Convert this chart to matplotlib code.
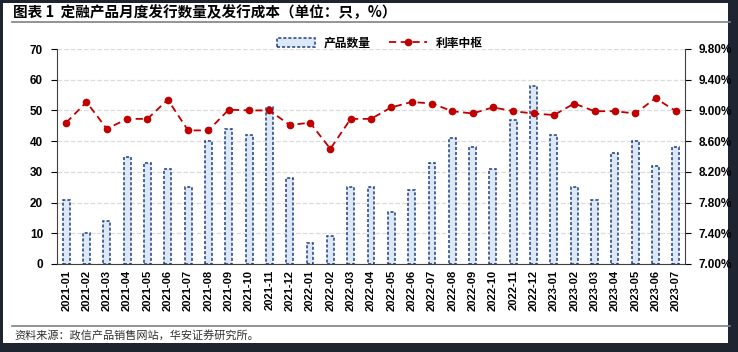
import matplotlib.pyplot as plt
from matplotlib.patches import Rectangle
from matplotlib.lines import Line2D

plt.rcParams['font.family'] = ['Liberation Sans', 'Noto Sans CJK SC', 'DejaVu Sans']

months = ["2021-01", "2021-02", "2021-03", "2021-04", "2021-05", "2021-06",
          "2021-07", "2021-08", "2021-09", "2021-10", "2021-11", "2021-12",
          "2022-01", "2022-02", "2022-03", "2022-04", "2022-05", "2022-06",
          "2022-07", "2022-08", "2022-09", "2022-10", "2022-11", "2022-12",
          "2023-01", "2023-02", "2023-03", "2023-04", "2023-05", "2023-06",
          "2023-07"]
counts = [21, 10, 14, 35, 33, 31, 25, 40, 44, 42, 51, 28,
          7, 9, 25, 25, 17, 24, 33, 41, 38, 31, 47, 58,
          42, 25, 21, 36, 40, 32, 38]
rates = [8.84, 9.11, 8.76, 8.89, 8.89, 9.14, 8.74, 8.74, 9.01, 9.00, 9.00, 8.81,
         8.84, 8.50, 8.89, 8.89, 9.04, 9.11, 9.09, 8.99, 8.96, 9.04, 8.99, 8.96,
         8.94, 9.09, 8.99, 8.99, 8.96, 9.16, 8.99]

W, H = 738, 352
fig = plt.figure(figsize=(W / 100, H / 100), dpi=100)
fig.patch.set_facecolor('#1e2530')
fig.patches.append(Rectangle((3 / W, 9 / H), 725 / W, 340 / H, transform=fig.transFigure,
                             facecolor='white', edgecolor='none', zorder=-10))

ax = fig.add_axes([57 / W, 1 - 264 / H, 628 / W, 215 / H])
ax.set_facecolor('none')
x = range(len(months))
ax.bar(x, counts, width=0.34, color='#dce8f5', edgecolor='#1f3f7f',
       linestyle=(0, (2, 1.3)), linewidth=1.1, label='产品数量', zorder=2)
ax.set_ylim(0, 70)
ax.set_yticks(range(0, 71, 10))
ax.set_xlim(-0.45, len(months) - 0.55)
ax.set_xticks(list(x))
ax.set_xticklabels(months, rotation=90, fontsize=8, fontweight='bold')
ax.tick_params(axis='x', length=0, pad=4)
ax.tick_params(axis='y', labelsize=8.5, length=4, width=0.8, pad=6)
for lab in ax.get_yticklabels():
    lab.set_fontweight('bold')
ax.grid(axis='y', color='#dcdcdc', linestyle='--', linewidth=0.9, zorder=0)
ax.spines['top'].set_visible(False)
ax.spines['right'].set_visible(False)
ax.spines['left'].set_color('#404040')
ax.spines['bottom'].set_color('#404040')

ax2 = ax.twinx()
ax2.plot(list(x), rates, color='#c00000', linestyle=(0, (4, 2.5)), linewidth=1.3,
         marker='o', markersize=4.5, label='利率中枢', zorder=3)
ax2.set_ylim(7.0, 9.8)
ax2.set_yticks([7.0, 7.4, 7.8, 8.2, 8.6, 9.0, 9.4, 9.8])
ax2.set_yticklabels(['%.2f%%' % v for v in [7.0, 7.4, 7.8, 8.2, 8.6, 9.0, 9.4, 9.8]],
                    fontsize=8.5, fontweight='bold')
ax2.tick_params(axis='y', length=4, width=0.8, pad=6)
ax2.spines['top'].set_visible(False)
ax2.spines['left'].set_visible(False)
ax2.spines['bottom'].set_visible(False)
ax2.spines['right'].set_color('#404040')

handles = [ax.patches[0], Line2D([], [], color='#c00000', linestyle=(0, (4, 2.5)), linewidth=1.3,
                                  marker='o', markersize=4.5)]
fig.legend(handles, ['产品数量', '利率中枢'], loc='center', bbox_to_anchor=(380 / W, 1 - 43 / H),
           ncol=2, frameon=False, handlelength=3.2, columnspacing=1.5,
           prop={'family': ['Noto Sans CJK SC'], 'weight': 'bold', 'size': 8.5})

fig.text(13 / W, 1 - 12 / H, '图表 1  定融产品月度发行数量及发行成本（单位：只，%）',
         fontsize=10.5, fontweight='bold', va='center', ha='left',
         family=['Noto Sans CJK SC', 'DejaVu Sans'])
fig.add_artist(Line2D([12 / W, 730 / W], [1 - 22 / H, 1 - 22 / H], color='#808080', linewidth=1.2))
fig.add_artist(Line2D([12 / W, 730 / W], [1 - 326 / H, 1 - 326 / H], color='#808080', linewidth=1.2))
fig.text(14 / W, 1 - 336 / H, '资料来源：政信产品销售网站，华安证券研究所。', fontsize=8,
         va='center', ha='left', color='#303030', family=['Noto Sans CJK SC', 'DejaVu Sans'])

fig.savefig('out.png', dpi=100, facecolor=fig.get_facecolor())
